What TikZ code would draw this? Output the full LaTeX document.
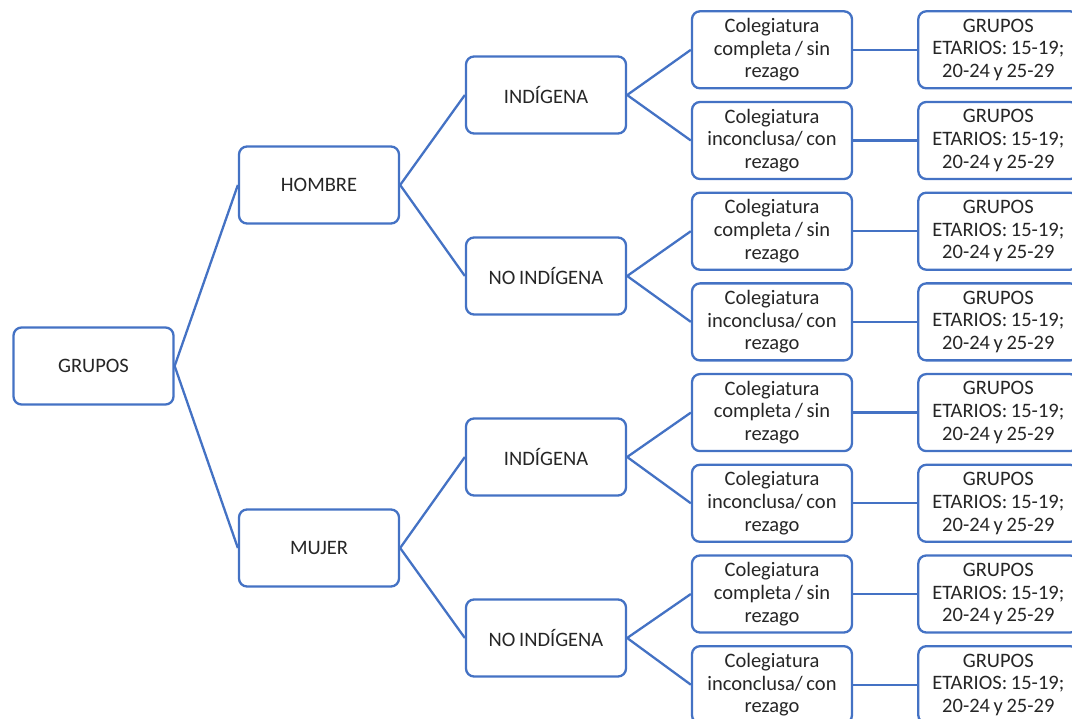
\documentclass[tikz,border=0pt]{standalone}
\usepackage{fontspec}
\setmainfont{Carlito}
\definecolor{boxblue}{HTML}{4472C4}
\definecolor{txt}{HTML}{262626}
\newcommand{\boxfont}{\fontsize{20.5}{22.7}\selectfont\spaceskip=3.6pt plus 1pt minus 0.5pt\relax}
\newcommand{\colA}{Colegiatura\\completa / sin\\rezago}
\newcommand{\colB}{Colegiatura\\inconclusa/ con\\rezago}
\newcommand{\etar}{GRUPOS\\ETARIOS: 15-19;\\20-24 y 25-29}
\begin{document}
\begin{tikzpicture}[x=1pt,y=-1pt,
  bx/.style={draw=boxblue, line width=2.3pt, rounded corners=8pt, fill=white,
    minimum width=160pt, minimum height=77pt, inner sep=0pt,
    align=center, text=txt, font=\boxfont},
  cn/.style={draw=boxblue, line width=2.3pt}]
\useasboundingbox (0,0) rectangle (1072,719);
\clip (0,0) rectangle (1072,719);
\node[bx] (g) at (93.5,366) {GRUPOS};
\node[bx] (h) at (319,185) {HOMBRE};
\node[bx] (m) at (319,548) {MUJER};
\node[bx] (hi) at (546,95) {INDÍGENA};
\node[bx] (hn) at (546,276) {NO INDÍGENA};
\node[bx] (mi) at (546,457) {INDÍGENA};
\node[bx] (mn) at (546,638) {NO INDÍGENA};
\node[bx] (c1) at (772,49.8) {\colA};
\node[bx] (c2) at (772,140.5) {\colB};
\node[bx] (c3) at (772,231.2) {\colA};
\node[bx] (c4) at (772,321.9) {\colB};
\node[bx] (c5) at (772,412.6) {\colA};
\node[bx] (c6) at (772,503.3) {\colB};
\node[bx] (c7) at (772,594.0) {\colA};
\node[bx] (c8) at (772,684.7) {\colB};
\foreach \n/\y in {c1/49.8,c2/140.5,c3/231.2,c4/321.9,c5/412.6,c6/503.3,c7/594.0,c8/684.7}{
  \node[bx] (e\n) at (998.3,\y) {\etar};
  \draw[cn] (\n.east) -- (e\n.west);
}
\draw[cn] (g.east) -- (h.west);
\draw[cn] (g.east) -- (m.west);
\draw[cn] (h.east) -- (hi.west);
\draw[cn] (h.east) -- (hn.west);
\draw[cn] (m.east) -- (mi.west);
\draw[cn] (m.east) -- (mn.west);
\draw[cn] (hi.east) -- (c1.west);
\draw[cn] (hi.east) -- (c2.west);
\draw[cn] (hn.east) -- (c3.west);
\draw[cn] (hn.east) -- (c4.west);
\draw[cn] (mi.east) -- (c5.west);
\draw[cn] (mi.east) -- (c6.west);
\draw[cn] (mn.east) -- (c7.west);
\draw[cn] (mn.east) -- (c8.west);
\end{tikzpicture}
\end{document}
